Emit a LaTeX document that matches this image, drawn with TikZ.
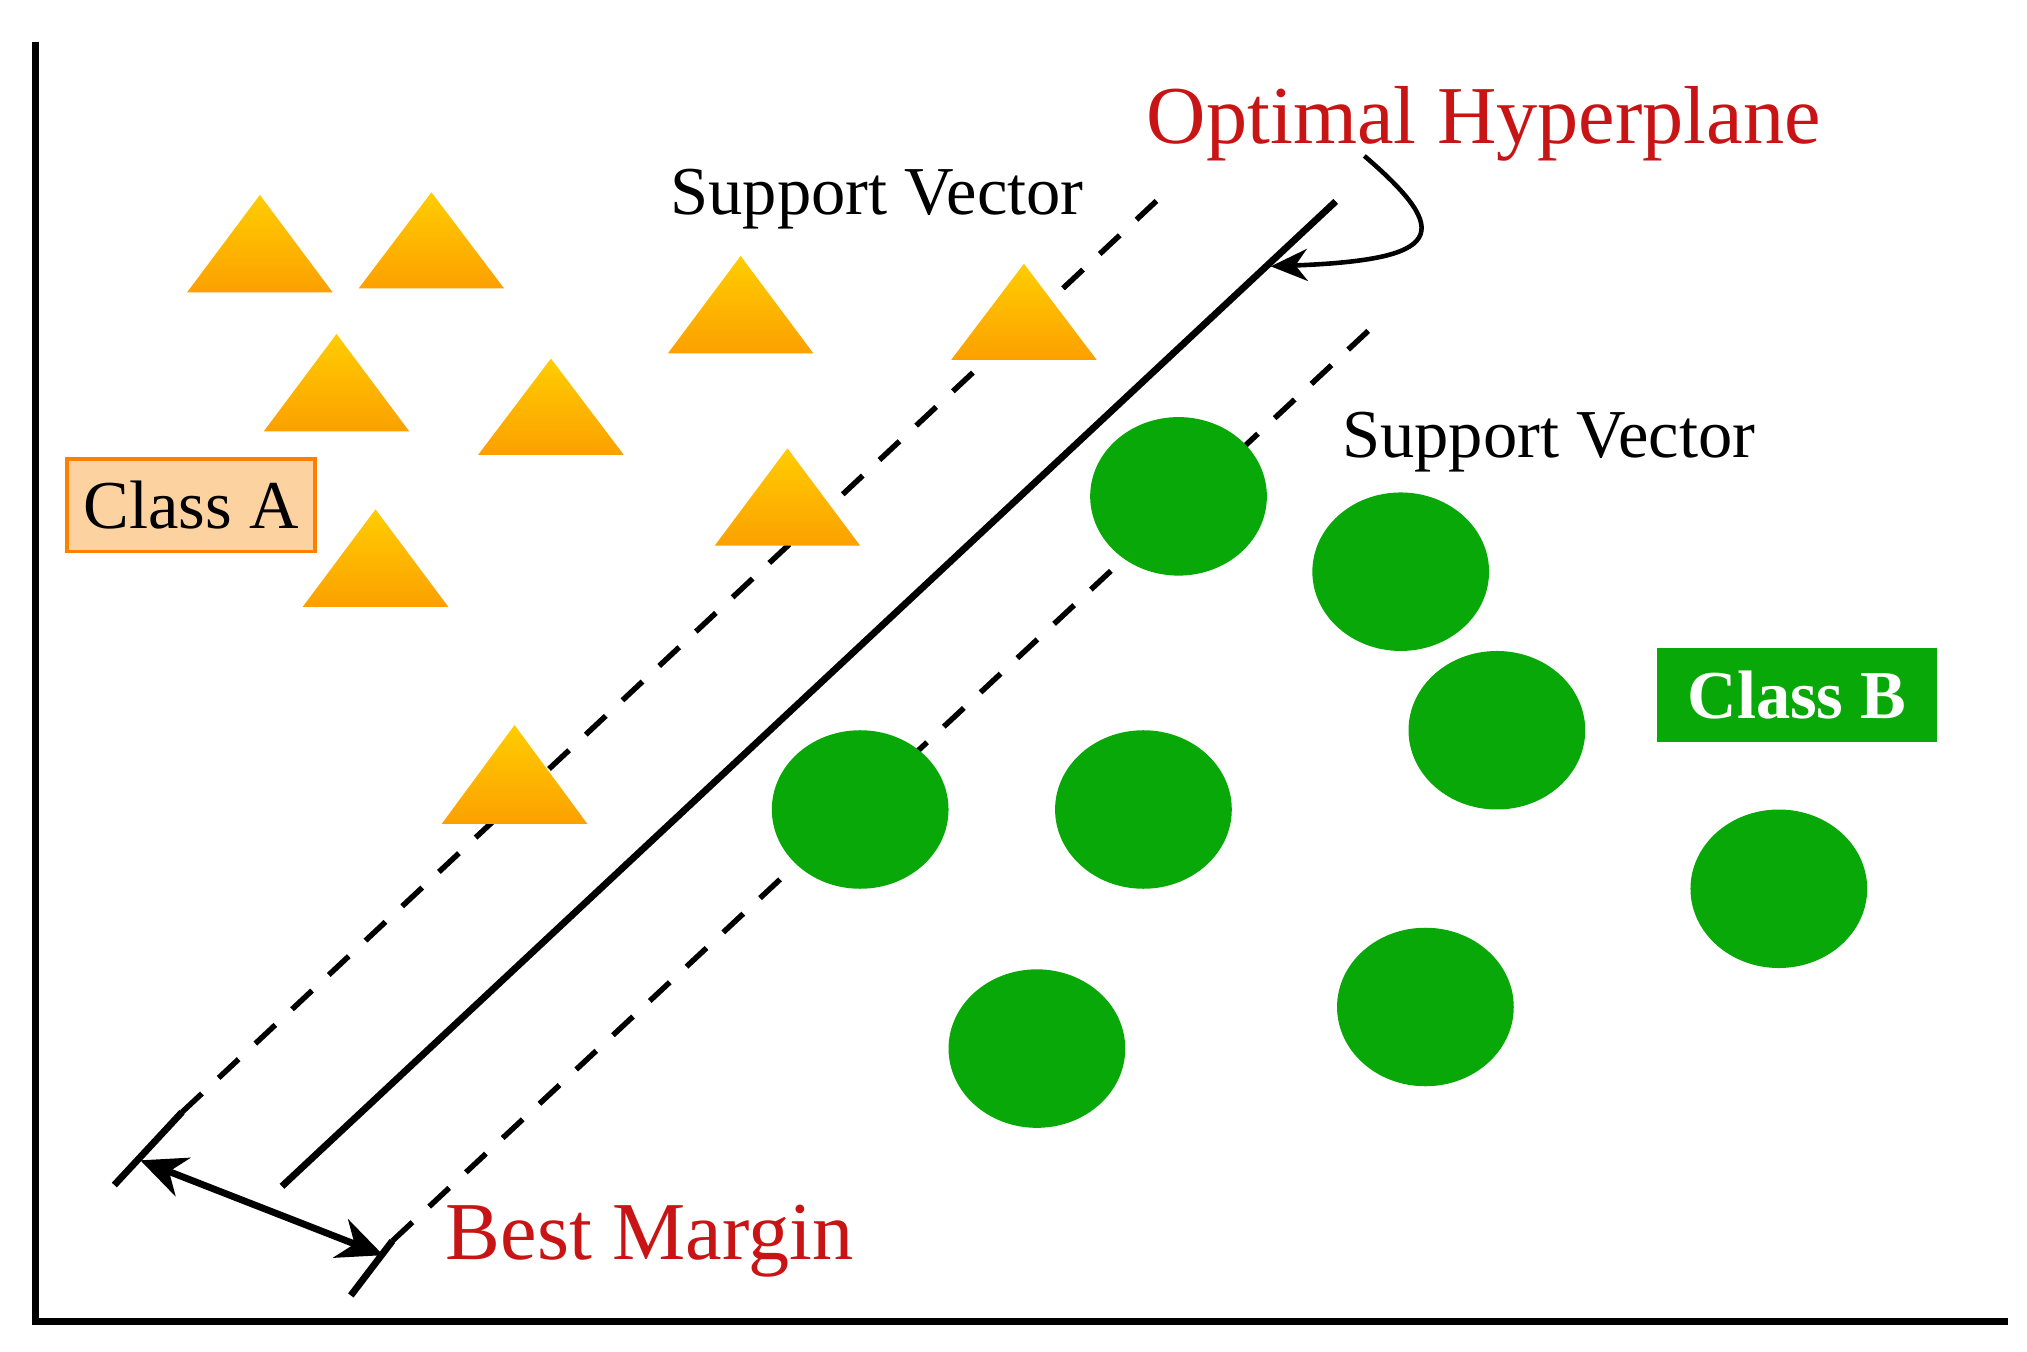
\documentclass[tikz,border=0pt]{standalone}
\usepackage{fontspec}
\setmainfont{Liberation Serif}
\usetikzlibrary{arrows.meta}
\definecolor{gr}{RGB}{8,168,8}
\definecolor{rd}{RGB}{200,20,20}
\definecolor{peach}{RGB}{252,210,160}
\definecolor{torange}{RGB}{252,160,0}
\definecolor{tyellow}{RGB}{255,205,0}
\begin{document}
\begin{tikzpicture}[x=0.01cm,y=-0.01cm,
  tri/.style={top color=tyellow,bottom color=torange,draw=none},
  circ/.style={fill=gr,draw=none},
  lbl/.style={font=\fontsize{15}{18}\selectfont,inner sep=0pt},
  dsh/.style={line width=1.2pt,dash pattern=on 6pt off 5pt}]
\useasboundingbox (0,0) rectangle (1560,1040);
\draw[line width=1.5pt] (27,32) -- (27,1017) -- (1545,1017);
\coordinate (h1) at (217,913); \coordinate (h2) at (1028,155);
\draw[line width=1.5pt] (h1) -- (h2);
\coordinate (u0) at (88,912); \coordinate (u1) at (140,856); \coordinate (u2) at (895,150);
\draw[line width=1.5pt] (u0) -- (u1);
\draw[dsh] (u1) -- (u2);
\coordinate (l0) at (270,997); \coordinate (l1) at (302,955); \coordinate (l2) at (1058,250);
\draw[line width=1.5pt] (l0) -- (l1);
\draw[dsh] (l1) -- (l2);
\foreach \x/\a/\b in {200/150/225,332/148/222,570/197/272,788/203/277,259/257/332,424/276/350,606/345/420,289/392/467,396/558/634}
  \shade[tri] (\x,\a) -- (\x+56,\b) -- (\x-56,\b) -- cycle;
\foreach \x/\y in {907/382,1078/440,1152/562,662/623,880/623,1369/684,798/807,1097/775}
  \fill[circ] (\x,\y) ellipse [x radius=68, y radius=61];
\node[lbl,draw=orange,fill=peach,line width=0.8pt,minimum width=191*0.01cm,minimum height=71*0.01cm] (ca) at (147,389) {Class A};
\node[lbl,fill=gr,text=white,font=\fontsize{15}{18}\selectfont\bfseries,minimum width=216*0.01cm,minimum height=72*0.01cm] (cb) at (1383,535) {Class B};
\coordinate (m1) at (108,893); \coordinate (m2) at (295,966);
\draw[line width=1.5pt,{Stealth[length=10pt,width=9pt]}-{Stealth[length=10pt,width=9pt]}] (m1) -- (m2);
\coordinate (c0) at (1050,120); \coordinate (c1) at (978,205);
\draw[line width=1pt,-{Stealth[length=8pt,width=7pt]}] (c0) .. controls (1120,180) and (1110,200) .. (c1);
\node[lbl,text=rd,font=\fontsize{18}{22}\selectfont] (oh) at (1142,95) {Optimal Hyperplane};
\node[lbl] (sv1) at (675,153) {Support Vector};
\node[lbl] (sv2) at (1192,340) {Support Vector};
\node[lbl,text=rd,font=\fontsize{18}{22}\selectfont] (bm) at (500,955) {Best Margin};
\end{tikzpicture}
\end{document}
